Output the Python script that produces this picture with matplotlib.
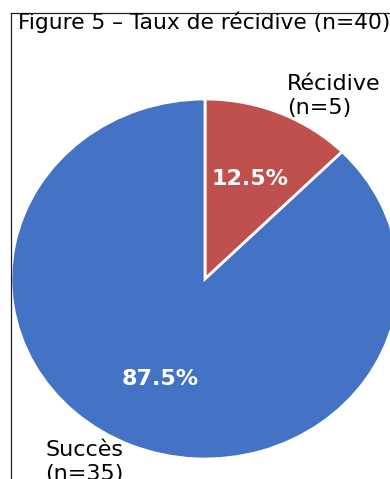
import matplotlib
matplotlib.use("Agg")
import matplotlib.pyplot as plt
from matplotlib.lines import Line2D

labels = ["Récidive\n(n=5)", "Succès\n(n=35)"]
counts = [5, 35]
colors = ["#C0504D", "#4472C4"]
title = "Figure 5 – Taux de récidive (n=40)"

W, H = 390, 479
fig = plt.figure(figsize=(W / 100, H / 100), dpi=100)

# axes placed so the (stretched) pie lands where it sits in the picture
ax = fig.add_axes([-37.5 / W, (H - 504) / H, 485 / W, 450 / H])
wedges, texts, autotexts = ax.pie(
    counts, labels=labels, colors=colors, startangle=90, counterclock=False,
    autopct="%1.1f%%", pctdistance=0.6, labeldistance=1.1,
    wedgeprops=dict(edgecolor="white", linewidth=2),
    textprops=dict(fontsize=16))
for t in autotexts:
    t.set_color("white")
    t.set_fontweight("bold")
ax.set_aspect("auto")
ax.set_xlim(-1.25, 1.25)
ax.set_ylim(-1.25, 1.25)

# frame edge visible at top/left of the picture
x0, y0 = 10.5 / W, 1 - 12.5 / H
fig.add_artist(Line2D([x0, x0], [0, y0], color="#222222", linewidth=0.9))
fig.add_artist(Line2D([x0, 1], [y0, y0], color="#222222", linewidth=0.9))

fig.text(18 / W, 1 - 22 / H, title, fontsize=15.7, ha="left", va="center")

fig.savefig("out.png", dpi=100)
